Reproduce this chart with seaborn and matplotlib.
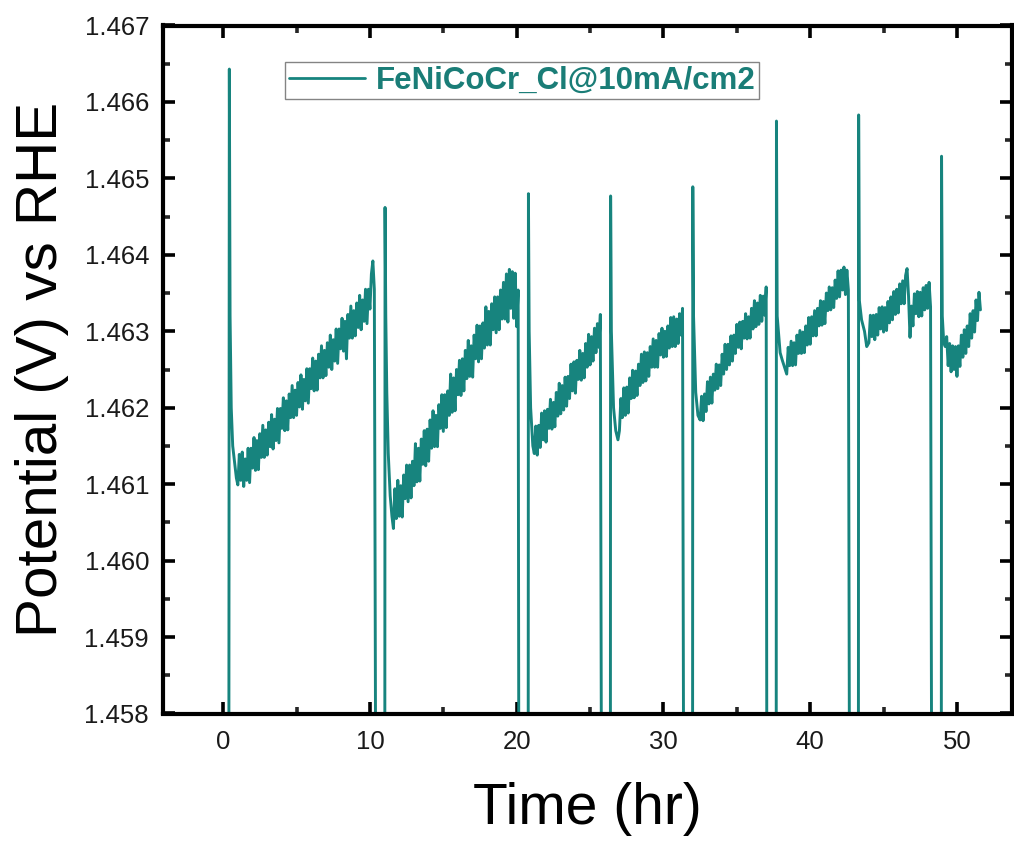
import numpy as np
import pandas as pd
import matplotlib
matplotlib.use("Agg")
import matplotlib.pyplot as plt
import seaborn as sns
from matplotlib.ticker import MultipleLocator, FormatStrFormatter

# ---- data ----
# time in hr; potential given in units of 1e-5 V above 1.46 V (so -500 -> 1.455 V, off-chart)
V_BASE = 1.46
V_UNIT = 1e-5

seg1_t = [0.38, 0.42, 0.47, 0.55, 0.65, 0.8, 0.9,
          1.0, 1.1, 1.2, 1.3, 1.4, 1.5, 1.6, 1.7, 1.8, 1.9, 2.0, 2.1, 2.2, 2.3, 2.4, 2.5, 2.6, 2.7, 2.8, 2.9,
          3.0, 3.1, 3.2, 3.3, 3.4, 3.5, 3.6, 3.7, 3.8, 3.9, 4.0, 4.1, 4.2, 4.3, 4.4, 4.5, 4.6, 4.7, 4.8, 4.9,
          5.0, 5.1, 5.2, 5.3, 5.4, 5.5, 5.6, 5.7, 5.8, 5.9, 6.0, 6.1, 6.2, 6.3, 6.4, 6.5, 6.6, 6.7, 6.8, 6.9,
          7.0, 7.1, 7.2, 7.3, 7.4, 7.5, 7.6, 7.7, 7.8, 7.9, 8.0, 8.1, 8.2, 8.3, 8.4, 8.5, 8.6, 8.7, 8.8, 8.9,
          9.0, 9.1, 9.2, 9.3, 9.4, 9.5, 9.6, 9.7, 9.8, 9.9, 10.0, 10.1, 10.2, 10.3, 10.42]
seg1_v = [-500, 643, 320, 200, 150, 125, 108,
          99, 139, 105, 142, 97, 133, 105, 147, 102, 147, 121, 161, 118, 157, 119, 166, 135, 177, 135, 171,
          138, 181, 149, 191, 146, 185, 157, 199, 154, 199, 173, 213, 170, 209, 171, 218, 187, 229, 187, 223,
          190, 233, 201, 243, 198, 237, 209, 251, 206, 251, 225, 265, 222, 261, 223, 270, 239, 281, 239, 275,
          242, 285, 253, 295, 250, 289, 261, 303, 258, 303, 277, 317, 274, 313, 264, 322, 291, 333, 291, 327,
          294, 337, 305, 347, 302, 341, 313, 355, 310, 355, 329, 375, 392, 355, -500]

seg2_t = [11.01, 11.03, 11.08, 11.15, 11.25, 11.38, 11.5,
          11.6, 11.7, 11.8, 11.9, 12.0, 12.1, 12.2, 12.3, 12.4, 12.5, 12.6, 12.7, 12.8, 12.9,
          13.0, 13.1, 13.2, 13.3, 13.4, 13.5, 13.6, 13.7, 13.8, 13.9, 14.0, 14.1, 14.2, 14.3, 14.4, 14.5,
          14.6, 14.7, 14.8, 14.9, 15.0, 15.1, 15.2, 15.3, 15.4, 15.5, 15.6, 15.7, 15.8, 15.9,
          16.0, 16.1, 16.2, 16.3, 16.4, 16.5, 16.6, 16.7, 16.8, 16.9, 17.0, 17.1, 17.2, 17.3, 17.4, 17.5,
          17.6, 17.7, 17.8, 17.9, 18.0, 18.1, 18.2, 18.3, 18.4, 18.5, 18.6, 18.7, 18.8, 18.9,
          19.0, 19.1, 19.2, 19.3, 19.4, 19.5, 19.6, 19.7, 19.8, 19.9, 20.0, 20.1, 20.16]
seg2_v = [-500, 462, 320, 220, 140, 85, 58,
          42, 94, 55, 105, 58, 98, 57, 112, 81, 125, 77, 125, 82, 130,
          98, 153, 103, 147, 104, 159, 126, 170, 124, 172, 130, 184, 147, 196, 149, 190,
          149, 204, 173, 217, 169, 217, 174, 222, 190, 244, 194, 239, 196, 250,
          217, 262, 216, 264, 222, 275, 238, 288, 241, 281, 240, 295, 264, 308, 260, 307,
          264, 311, 278, 332, 282, 326, 282, 336, 302, 345, 298, 345, 302, 354,
          316, 364, 316, 375, 312, 381, 330, 378, 317, 376, 306, 354, -500]

seg3_t = [20.78, 20.80, 20.85, 20.95, 21.1, 21.2,
          21.3, 21.4, 21.5, 21.6, 21.7, 21.8, 21.9, 22.0, 22.1, 22.2, 22.3, 22.4, 22.5, 22.6, 22.7, 22.8, 22.9,
          23.0, 23.1, 23.2, 23.3, 23.4, 23.5, 23.6, 23.7, 23.8, 23.9, 24.0, 24.1, 24.2, 24.3, 24.4, 24.5,
          24.6, 24.7, 24.8, 24.9, 25.0, 25.1, 25.2, 25.3, 25.4, 25.5, 25.6, 25.7, 25.8]
seg3_v = [-500, 480, 300, 200, 150, 140,
          176, 138, 177, 148, 193, 158, 196, 155, 198, 173, 211, 172, 207, 175, 220, 189, 232,
          192, 229, 197, 240, 202, 241, 212, 257, 222, 260, 219, 262, 237, 275, 236, 271,
          239, 284, 253, 296, 256, 293, 261, 304, 272, 310, 279, 322, -500]

seg4_t = [26.38, 26.40, 26.45, 26.6, 26.75, 26.9,
          27.0, 27.1, 27.2, 27.3, 27.4, 27.5, 27.6, 27.7, 27.8, 27.9, 28.0, 28.1, 28.2, 28.3, 28.4, 28.5,
          28.6, 28.7, 28.8, 28.9, 29.0, 29.1, 29.2, 29.3, 29.4, 29.5, 29.6, 29.7, 29.8, 29.9,
          30.0, 30.1, 30.2, 30.3, 30.4, 30.5, 30.6, 30.7, 30.8, 30.9, 31.0, 31.1, 31.2, 31.3, 31.4]
seg4_v = [-500, 477, 300, 200, 170, 158,
          170, 212, 187, 226, 190, 227, 193, 239, 212, 249, 213, 248, 216, 257, 229, 270,
          233, 273, 235, 272, 241, 280, 253, 290, 253, 288, 253, 297, 269, 304,
          266, 300, 267, 307, 278, 318, 280, 319, 280, 316, 284, 323, 295, 330, -500]

seg5_t = [31.98, 32.00, 32.05, 32.2, 32.35, 32.5,
          32.6, 32.7, 32.8, 32.9, 33.0, 33.1, 33.2, 33.3, 33.4, 33.5, 33.6, 33.7, 33.8, 33.9,
          34.0, 34.1, 34.2, 34.3, 34.4, 34.5, 34.6, 34.7, 34.8, 34.9, 35.0, 35.1, 35.2, 35.3, 35.4, 35.5,
          35.6, 35.7, 35.8, 35.9, 36.0, 36.1, 36.2, 36.3, 36.4, 36.5, 36.6, 36.7, 36.8, 36.9, 37.0, 37.06]
seg5_v = [-500, 489, 320, 220, 190, 184,
          215, 183, 218, 195, 234, 205, 240, 206, 244, 223, 257, 225, 256, 229,
          270, 244, 283, 250, 283, 256, 294, 261, 295, 271, 309, 279, 312, 277, 313, 291,
          323, 290, 319, 291, 330, 303, 340, 306, 337, 309, 347, 313, 346, 321, 358, -500]

seg6_t = [37.68, 37.70, 37.75, 37.95, 38.1, 38.3,
          38.4, 38.5, 38.6, 38.7, 38.8, 38.9, 39.0, 39.1, 39.2, 39.3, 39.4, 39.5, 39.6, 39.7, 39.8, 39.9,
          40.0, 40.1, 40.2, 40.3, 40.4, 40.5, 40.6, 40.7, 40.8, 40.9, 41.0, 41.1, 41.2, 41.3, 41.4, 41.5,
          41.6, 41.7, 41.8, 41.9, 42.0, 42.1, 42.2, 42.3, 42.4, 42.5, 42.6, 42.7]
seg6_v = [-500, 575, 320, 272, 262, 250,
          244, 279, 255, 287, 255, 285, 256, 295, 271, 301, 271, 299, 272, 307, 282, 318,
          283, 319, 294, 327, 294, 330, 307, 340, 308, 339, 310, 350, 327, 358, 328, 357,
          331, 367, 343, 379, 345, 380, 354, 384, 348, 380, 354, -500]

seg7_t = [43.28, 43.30, 43.35, 43.5, 43.7, 43.85,
          44.0, 44.1, 44.2, 44.3, 44.4, 44.5, 44.6, 44.7, 44.8, 44.9, 45.0, 45.1, 45.2, 45.3, 45.4, 45.5,
          45.6, 45.7, 45.8, 45.9, 46.0, 46.1, 46.2, 46.3, 46.4, 46.5, 46.6, 46.7, 46.8, 46.9,
          47.0, 47.1, 47.2, 47.3, 47.4, 47.5, 47.6, 47.7, 47.8, 47.9, 48.0, 48.1, 48.2, 48.3]
seg7_v = [-500, 583, 340, 315, 300, 280,
          285, 321, 293, 321, 289, 322, 295, 331, 303, 332, 299, 331, 301, 339, 311, 345,
          315, 352, 322, 355, 324, 362, 336, 366, 336, 373, 382, 346, 292, 333,
          307, 349, 323, 352, 319, 351, 320, 357, 328, 360, 330, 364, 332, -500]

seg8_t = [48.93, 48.95, 49.0, 49.1, 49.2,
          49.3, 49.4, 49.5, 49.6, 49.7, 49.8, 49.9, 50.0, 50.1, 50.2, 50.3, 50.4, 50.5, 50.6, 50.7,
          50.8, 50.9, 51.0, 51.1, 51.2, 51.3, 51.4, 51.5, 51.6]
seg8_v = [-500, 529, 320, 285, 280,
          293, 255, 284, 247, 281, 250, 280, 241, 281, 254, 295, 266, 302, 271, 307,
          280, 323, 291, 327, 299, 341, 314, 351, 328]

series_label = "FeNiCoCr_Cl@10mA/cm2"
x_label = "Time (hr)"
y_label = "Potential (V) vs RHE"
x_ticks = [0, 10, 20, 30, 40, 50]

line_color = "#17847e"

time = seg1_t + seg2_t + seg3_t + seg4_t + seg5_t + seg6_t + seg7_t + seg8_t
raw = seg1_v + seg2_v + seg3_v + seg4_v + seg5_v + seg6_v + seg7_v + seg8_v
potential = [V_BASE + v * V_UNIT for v in raw]
df = pd.DataFrame({"Time": time, "Potential": potential, "Sample": series_label})

sns.set_style("ticks")
plt.rcParams["font.family"] = ["Liberation Sans", "DejaVu Sans"]

fig = plt.figure(figsize=(10.14, 8.41), dpi=100)
ax = fig.add_axes([163 / 1014, 1 - 713.5 / 841, (1012 - 163) / 1014, (713.5 - 25.5) / 841])

sns.lineplot(data=df, x="Time", y="Potential", hue="Sample", palette=[line_color],
             sort=False, estimator=None, linewidth=2.1, ax=ax)

ax.set_xlim(-4.1, 53.75)
ax.set_ylim(1.458, 1.467)
ax.set_xticks(x_ticks)
ax.xaxis.set_minor_locator(MultipleLocator(5))
ax.yaxis.set_major_locator(MultipleLocator(0.001))
ax.yaxis.set_minor_locator(MultipleLocator(0.0005))
ax.yaxis.set_major_formatter(FormatStrFormatter("%.3f"))

for s in ax.spines.values():
    s.set_visible(True)
    s.set_linewidth(3.0)
    s.set_color("black")

ax.tick_params(which="major", direction="in", length=8.5, width=2.6, top=True, right=True,
               labelsize=18.5, colors="black", labelcolor="#1a1a1a")
ax.tick_params(axis="x", which="major", pad=12)
ax.tick_params(axis="y", which="major", pad=10)
ax.tick_params(which="minor", direction="in", length=5, width=2.6, top=True, right=True)

ax.set_xlabel(x_label, fontsize=41, labelpad=20, color="black")
ax.set_ylabel(y_label, fontsize=42, labelpad=11, color="black")

leg = ax.legend(loc="upper left", bbox_to_anchor=(0.1437, 0.947), borderaxespad=0,
                frameon=True, fancybox=False, handlelength=2.45, handletextpad=0.33,
                borderpad=0.12, prop={"weight": "bold", "size": 22.5})
leg.get_frame().set_edgecolor("#666666")
leg.get_frame().set_linewidth(1.0)
for txt in leg.get_texts():
    txt.set_color("#1a7d77")
for h in leg.get_lines():
    h.set_linewidth(2.0)

fig.savefig("out.png", dpi=100)
